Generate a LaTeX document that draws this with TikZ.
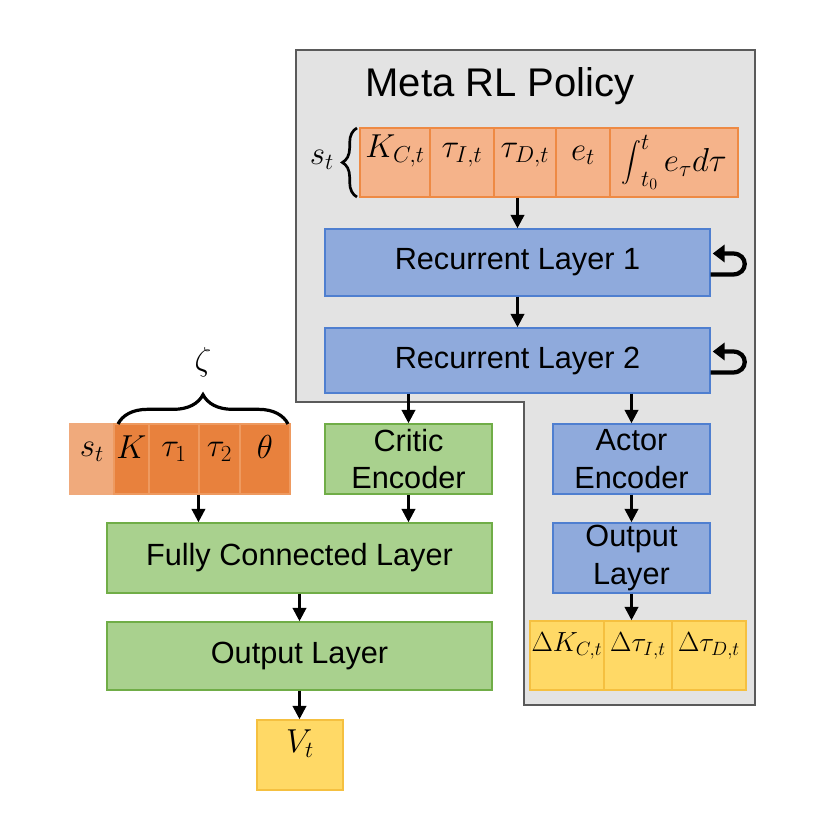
\documentclass[tikz,border=0pt]{standalone}
\usepackage{amsmath}
\usepackage{graphicx}
\usepackage[no-math]{fontspec}
\setmainfont{Liberation Sans}
\usetikzlibrary{fit,arrows.meta,decorations.pathreplacing,calc}
\definecolor{grayfill}{HTML}{E3E3E3}
\definecolor{grayline}{HTML}{5A5A5A}
\definecolor{oranL}{HTML}{F5B38A}
\definecolor{oranLD}{HTML}{EE8A44}
\definecolor{oranD}{HTML}{E8813D}
\definecolor{oranDL}{HTML}{EE9A60}
\definecolor{oranS}{HTML}{F0AA7C}
\definecolor{blueF}{HTML}{8FAADC}
\definecolor{blueD}{HTML}{4F7FD0}
\definecolor{greenF}{HTML}{A9D18E}
\definecolor{greenD}{HTML}{70AD47}
\definecolor{yelF}{HTML}{FFD966}
\definecolor{yelD}{HTML}{F5C040}
\tikzset{
  box/.style={inner sep=0pt, line width=1.1pt},
  boxtext/.style={align=center, font=\fontsize{23}{28}\selectfont, inner sep=0pt},
  bluebox/.style={box, fill=blueF, draw=blueD},
  greenbox/.style={box, fill=greenF, draw=greenD},
  cellA/.style={inner sep=0pt, line width=1.1pt, fill=oranL, draw=oranLD, font=\fontsize{24}{28}\selectfont},
  cellB/.style={inner sep=0pt, line width=0.8pt, fill=oranD, draw=oranDL, font=\fontsize{27}{30}\selectfont},
  cellS/.style={inner sep=0pt, line width=0.8pt, fill=oranS, draw=oranS, font=\fontsize{27}{30}\selectfont},
  cellY/.style={inner sep=0pt, line width=1.1pt, fill=yelF, draw=yelD, font=\fontsize{20}{24}\selectfont},
  arr/.style={line width=2pt, -{Triangle[length=10pt,width=10pt]}},
  loop/.style={line width=3.2pt, -{Triangle[length=9pt,width=13pt]}},
  grp/.style={inner sep=0pt}
}
\begin{document}
\begin{tikzpicture}[x=0.75pt,y=-0.75pt]
\useasboundingbox (0,0) rectangle (840,816);
% gray policy region
\draw[fill=grayfill, draw=grayline, line width=1.6pt]
  (296,50) -- (755,50) -- (755,705) -- (524,705) -- (524,402) -- (296,402) -- cycle;
\node[font=\fontsize{30}{34}\selectfont] (title) at (500,86) {Meta RL Policy};

% state row
\node[cellA, fit={(360,128) (430,197)}] (a1) {$K_{C,t}$};
\node[cellA, fit={(430,128) (494,197)}] (a2) {$\tau_{I,t}$};
\node[cellA, fit={(494,128) (556,197)}] (a3) {$\tau_{D,t}$};
\node[cellA, fit={(556,128) (610,197)}] (a4) {$e_t$};
\node[cellA, fit={(610,128) (738,197)}, label={[inner sep=0pt, font=\fontsize{24}{28}\selectfont]center:$\mathop{\vcenter{\hbox{\scalebox{0.6}{$\displaystyle\int$}}}}\nolimits_{t_0}^{t} e_\tau d\tau$}] (a5) {};
\node[grp, fit=(a1)(a5)] (srow) {};
\draw[line width=2pt, decorate, decoration={brace, amplitude=11pt}] (357,197) -- (357,128);
\node[font=\fontsize{27}{30}\selectfont] (stlab) at (322,160) {$s_t$};

% recurrent layers
\node[bluebox, fit={(325,229) (710,296)}, label={[boxtext]center:Recurrent Layer 1}] (r1) {};
\node[bluebox, fit={(325,328) (710,393)}, label={[boxtext]center:Recurrent Layer 2}] (r2) {};
\draw[loop] ($(r1.east)+(0,12)$) -- ++(22,0) .. controls ++(16,0) and ++(16,0) .. ++(0,-21) -- ++(-20,0);
\draw[loop] ($(r2.east)+(0,12)$) -- ++(22,0) .. controls ++(16,0) and ++(16,0) .. ++(0,-21) -- ++(-20,0);

% encoders
\node[greenbox, fit={(325,424) (492,494)}, label={[boxtext]center:Critic\\Encoder}] (critic) {};
\node[bluebox, fit={(553,424) (710,494)}, label={[boxtext]center:Actor\\Encoder}] (actor) {};
\node[bluebox, fit={(553,523) (710,593)}, label={[boxtext]center:Output\\Layer}] (aout) {};

% action outputs
\node[cellY, fit={(530,621) (604,690)}] (y1) {$\Delta K_{C,t}$};
\node[cellY, fit={(604,621) (672,690)}] (y2) {$\Delta \tau_{I,t}$};
\node[cellY, fit={(672,621) (746,690)}] (y3) {$\Delta \tau_{D,t}$};

% zeta row
\node[cellS, fit={(70,424) (114,494)}] (z1) {$s_t$};
\node[cellB, fit={(114,424) (149,494)}] (z2) {$K$};
\node[cellB, fit={(149,424) (199,494)}] (z3) {$\tau_1$};
\node[cellB, fit={(199,424) (240,494)}] (z4) {$\tau_2$};
\node[cellB, fit={(240,424) (290,494)}] (z5) {$\theta$};
\draw[line width=2.4pt, decorate, decoration={brace, amplitude=22pt}] (118,424) -- (288,424);
\node[font=\fontsize{27}{30}\selectfont] (zeta) at (203,362) {$\zeta$};

% critic path
\node[greenbox, fit={(107,523) (492,593)}, label={[boxtext]center:Fully Connected Layer}] (fc) {};
\node[greenbox, fit={(107,622) (492,690)}, label={[boxtext]center:Output Layer}] (cout) {};
\node[box, fill=yelF, draw=yelD, fit={(257,720) (343,790)}, font=\fontsize{25}{28}\selectfont] (vt) {$V_t$};

% arrows
\draw[arr] (r1.north |- srow.south) -- (r1.north);
\draw[arr] (r1.south) -- (r1.south |- r2.north);
\draw[arr] (critic.north |- r2.south) -- (critic.north);
\draw[arr] (actor.north |- r2.south) -- (actor.north);
\draw[arr] (actor.south) -- (actor.south |- aout.north);
\draw[arr] (aout.south) -- (aout.south |- y1.north);
\draw[arr] (z4.south west) -- (z4.south west |- fc.north);
\draw[arr] (critic.south) -- (critic.south |- fc.north);
\draw[arr] (fc.south) -- (fc.south |- cout.north);
\draw[arr] (cout.south) -- (cout.south |- vt.north);
\end{tikzpicture}
\end{document}
